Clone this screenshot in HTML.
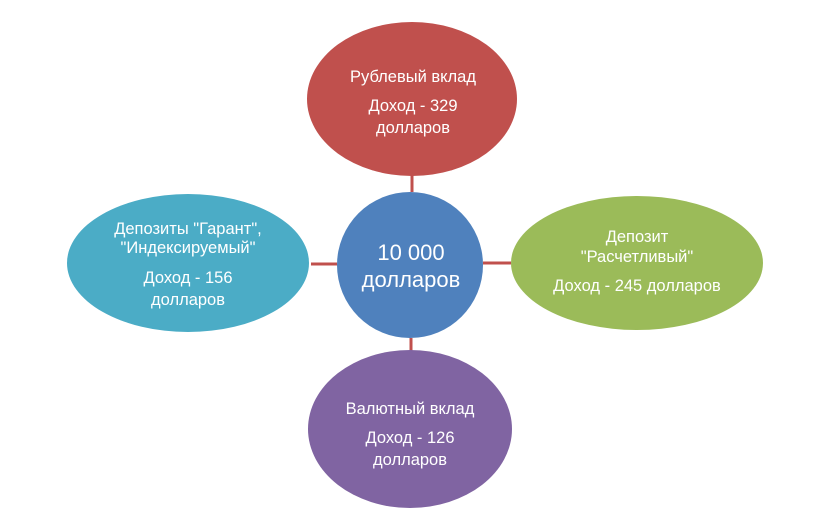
<!DOCTYPE html>
<html><head><meta charset="utf-8"><style>html,body{margin:0;padding:0;background:#fff}</style></head>
<body>
<svg width="821" height="527" viewBox="0 0 821 527" xmlns="http://www.w3.org/2000/svg" font-family="Liberation Sans, DejaVu Sans, sans-serif">
<g stroke="#c0504d" stroke-width="3">
<line x1="412" y1="173" x2="412" y2="192"/>
<line x1="411" y1="338" x2="411" y2="360"/>
<line x1="311" y1="264" x2="337" y2="264"/>
<line x1="483" y1="263" x2="511" y2="263"/>
</g>
<ellipse cx="412" cy="99" rx="105" ry="77" fill="#c0504d"/>
<ellipse cx="637" cy="263" rx="126" ry="67" fill="#9bbb59"/>
<ellipse cx="188" cy="263" rx="121" ry="69" fill="#4bacc6"/>
<ellipse cx="410" cy="429" rx="102" ry="79" fill="#8064a2"/>
<circle cx="410" cy="265" r="73" fill="#4f81bd"/>
<g fill="#fff" font-size="16.5" text-anchor="middle" textLength="">
<text x="413" y="82">Рублевый вклад</text>
<text x="413" y="111">Доход - 329</text>
<text x="413" y="133">долларов</text>
<text x="637" y="242">Депозит</text>
<text x="637" y="262">"Расчетливый"</text>
<text x="637" y="291">Доход - 245 долларов</text>
<text x="188" y="234">Депозиты "Гарант",</text>
<text x="188" y="253">"Индексируемый"</text>
<text x="188" y="283">Доход - 156</text>
<text x="188" y="305">долларов</text>
<text x="410" y="414">Валютный вклад</text>
<text x="410" y="443">Доход - 126</text>
<text x="410" y="465">долларов</text>
<text x="411" y="260" font-size="22">10 000</text>
<text x="411" y="287" font-size="22">долларов</text>
</g>
</svg>
</body></html>
